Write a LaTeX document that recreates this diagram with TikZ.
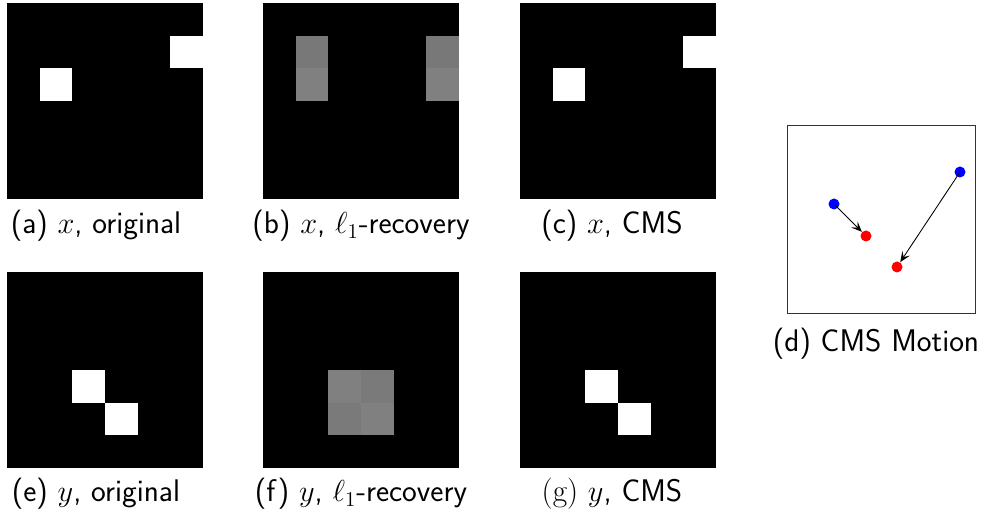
\documentclass[tikz,border=0pt]{standalone}
\usepackage{xcolor}
\usepackage{tikz}
\usetikzlibrary{arrows.meta,positioning}

% size of one cell of the 6x6 images
\newcommand{\cellsz}{32.667}
% a 6x6 image: left, top, list of col/row/black-percent
\newcommand{\pixpanel}[3]{%
  \fill[black] (#1,#2) rectangle ++(196,196);
  \foreach \c/\r/\s in {#3}
    \fill[black!\s] ({#1+\c*\cellsz},{#2+\r*\cellsz}) rectangle ++(\cellsz,\cellsz);
}

\begin{document}
\begin{tikzpicture}[
  x=0.02cm, y=-0.02cm,
  subcap/.style={anchor=base, inner sep=0pt, font=\sffamily\fontsize{17.8}{21}\selectfont},
  dot/.style={circle, inner sep=0pt, minimum size=0.22cm},
  arr/.style={-{Stealth[length=6pt, width=5pt, inset=2.5pt]}, line width=0.5pt, shorten <=-2pt}
]
  \useasboundingbox (0,0) rectangle (981,519);

  % top row: x
  \pixpanel{7}{3}{5/1/0, 1/2/0}
  \pixpanel{263}{3}{1/1/53, 1/2/50, 5/1/53, 5/2/50}
  \pixpanel{520}{3}{5/1/0, 1/2/0}
  \node[subcap] (capa) at (96,234) {(a) $x$, original};
  \node[subcap] (capb) at (361,234) {(b) $x$, $\ell_1$-recovery};
  \node[subcap] (capc) at (612,234) {(c) $x$, CMS};

  % bottom row: y
  \pixpanel{7}{272}{2/3/0, 3/4/0}
  \pixpanel{263}{272}{2/3/50, 3/3/52, 2/4/52, 3/4/50}
  \pixpanel{520}{272}{2/3/0, 3/4/0}
  \node[subcap] (cape) at (96,502) {(e) $y$, original};
  \node[subcap] (capf) at (361,502) {(f) $y$, $\ell_1$-recovery};
  \node[subcap] (capg) at (612,502) {{\rmfamily(g)} $y$, CMS};

  % motion panel
  \draw[line width=0.5pt, black!80] (787,125) rectangle (975,313);
  \node[dot, fill=blue] (b1) at (834,204) {};
  \node[dot, fill=blue] (b2) at (960,172) {};
  \node[dot, fill=red] (r1) at (866,236) {};
  \node[dot, fill=red] (r2) at (897,267) {};
  \draw[arr] (b1) -- (r1);
  \draw[arr] (b2) -- (r2);
  \node[subcap] (capd) at (876,352) {(d) CMS Motion};
\end{tikzpicture}
\end{document}
